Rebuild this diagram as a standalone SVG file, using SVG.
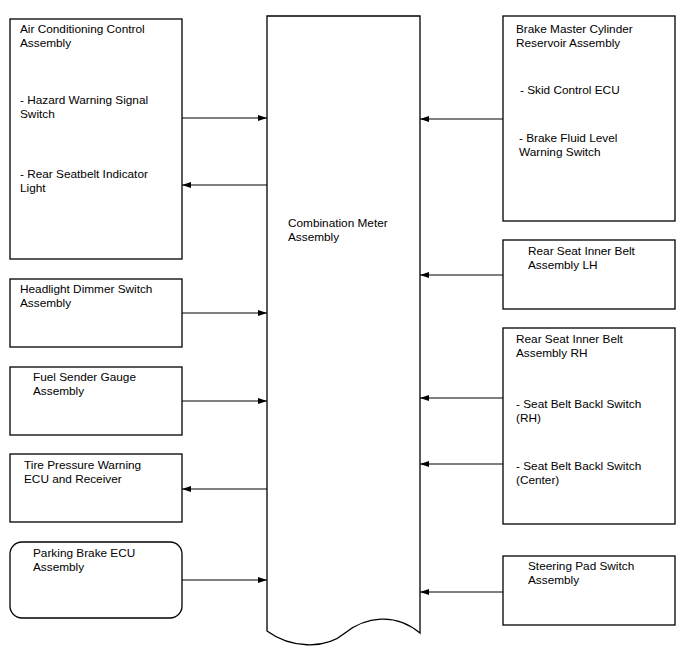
<svg xmlns="http://www.w3.org/2000/svg" width="688" height="658" viewBox="0 0 688 658">
<style>
.box{fill:#fff;stroke:#000;stroke-width:1.3}
.t{font-family:"Liberation Sans",Arial,sans-serif;font-size:11.8px;fill:#000}
.c{stroke:#000;stroke-width:1;fill:none}
</style>
<defs>
<marker id="ah" markerWidth="9" markerHeight="6" refX="9" refY="3" orient="auto" markerUnits="userSpaceOnUse">
<path d="M0,0 L9,3 L0,6 Z" fill="#000"/>
</marker>
</defs>
<rect width="688" height="658" fill="#fff"/>
<g id="meter">
<path class="box" d="M267,16 H420 V633 C395,612 365,617 345,633 C325,650 290,648 267,631 Z"/>
<text class="t" x="288" y="227">Combination Meter</text>
<text class="t" x="288" y="241">Assembly</text>
</g>
<g id="ac">
<rect class="box" x="10" y="19" width="172" height="240"/>
<text class="t" x="20" y="33">Air Conditioning Control</text>
<text class="t" x="20" y="47">Assembly</text>
<text class="t" x="20" y="104">- Hazard Warning Signal</text>
<text class="t" x="20" y="118">Switch</text>
<text class="t" x="20" y="178">- Rear Seatbelt Indicator</text>
<text class="t" x="20" y="192">Light</text>
</g>
<g id="headlight">
<rect class="box" x="10" y="279" width="172" height="68"/>
<text class="t" x="20" y="293">Headlight Dimmer Switch</text>
<text class="t" x="20" y="307">Assembly</text>
</g>
<g id="fuel">
<rect class="box" x="10" y="367" width="172" height="68"/>
<text class="t" x="33" y="381">Fuel Sender Gauge</text>
<text class="t" x="33" y="395">Assembly</text>
</g>
<g id="tire">
<rect class="box" x="10" y="454" width="172" height="68"/>
<text class="t" x="24" y="469">Tire Pressure Warning</text>
<text class="t" x="24" y="483">ECU and Receiver</text>
</g>
<g id="parking">
<rect class="box" x="10" y="542" width="172" height="76" rx="12" ry="12"/>
<text class="t" x="33" y="557">Parking Brake ECU</text>
<text class="t" x="33" y="571">Assembly</text>
</g>
<g id="brake">
<rect class="box" x="503" y="16" width="172" height="205"/>
<text class="t" x="516" y="33">Brake Master Cylinder</text>
<text class="t" x="516" y="47">Reservoir Assembly</text>
<text class="t" x="520" y="94">- Skid Control ECU</text>
<text class="t" x="519" y="142">- Brake Fluid Level</text>
<text class="t" x="519" y="156">Warning Switch</text>
</g>
<g id="rearlh">
<rect class="box" x="503" y="240" width="172" height="69"/>
<text class="t" x="528" y="255">Rear Seat Inner Belt</text>
<text class="t" x="528" y="269">Assembly LH</text>
</g>
<g id="rearrh">
<rect class="box" x="503" y="328" width="172" height="196"/>
<text class="t" x="516" y="343">Rear Seat Inner Belt</text>
<text class="t" x="516" y="357">Assembly RH</text>
<text class="t" x="516" y="408">- Seat Belt Backl Switch</text>
<text class="t" x="516" y="422">(RH)</text>
<text class="t" x="516" y="470">- Seat Belt Backl Switch</text>
<text class="t" x="516" y="484">(Center)</text>
</g>
<g id="steering">
<rect class="box" x="503" y="556" width="172" height="69"/>
<text class="t" x="528" y="570">Steering Pad Switch</text>
<text class="t" x="528" y="584">Assembly</text>
</g>
<g id="connectors">
<line class="c" x1="182" y1="118" x2="267" y2="118" marker-end="url(#ah)"/>
<line class="c" x1="267" y1="185" x2="182" y2="185" marker-end="url(#ah)"/>
<line class="c" x1="182" y1="313" x2="267" y2="313" marker-end="url(#ah)"/>
<line class="c" x1="182" y1="401" x2="267" y2="401" marker-end="url(#ah)"/>
<line class="c" x1="267" y1="489" x2="182" y2="489" marker-end="url(#ah)"/>
<line class="c" x1="182" y1="580" x2="267" y2="580" marker-end="url(#ah)"/>
<line class="c" x1="503" y1="119" x2="420" y2="119" marker-end="url(#ah)"/>
<line class="c" x1="503" y1="275" x2="420" y2="275" marker-end="url(#ah)"/>
<line class="c" x1="503" y1="398" x2="420" y2="398" marker-end="url(#ah)"/>
<line class="c" x1="503" y1="464" x2="420" y2="464" marker-end="url(#ah)"/>
<line class="c" x1="503" y1="592" x2="420" y2="592" marker-end="url(#ah)"/>
</g>
</svg>
